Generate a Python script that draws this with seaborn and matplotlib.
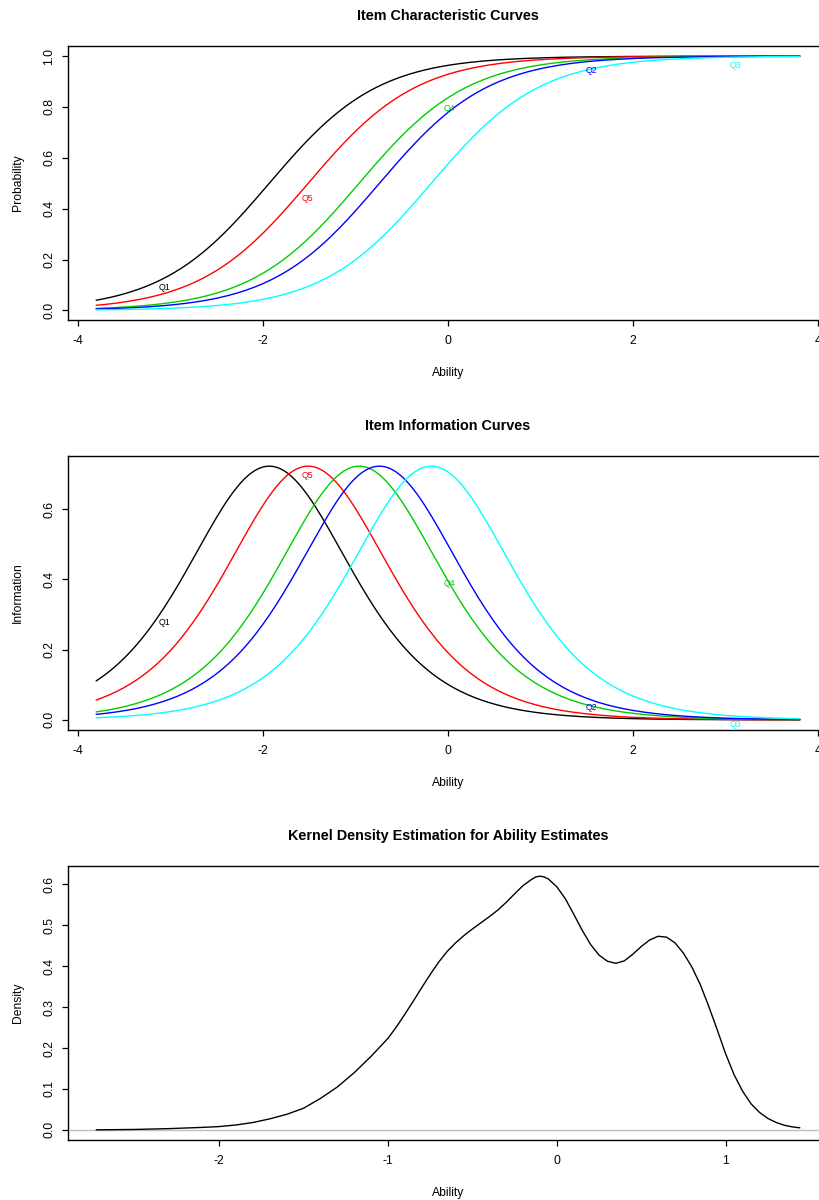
import numpy as np
import pandas as pd
import matplotlib
matplotlib.use("Agg")
import matplotlib.pyplot as plt
import seaborn as sns

# ---------------- data ----------------
# items in plotting order (sorted by difficulty), Rasch model with common discrimination
items = ["Q1", "Q5", "Q4", "Q2", "Q3"]
difficulty = [-1.93, -1.51, -0.96, -0.74, -0.18]
discrimination = 1.70
item_colors = ["#000000", "#FF0000", "#00CD00", "#0000FF", "#00FFFF"]
ability_range = [-3.8, 3.8]

# item label positions (ability) and heights in each panel
label_ability = [-3.06, -1.52, 0.02, 1.55, 3.10]
icc_label_y = [0.09, 0.44, 0.795, 0.945, 0.963]
iic_label_y = [0.276, 0.697, 0.389, 0.034, -0.014]

# kernel density of ability estimates
kde_ability = [-2.73, -2.50, -2.30, -2.10, -2.00, -1.90, -1.80, -1.70, -1.60, -1.50,
               -1.40, -1.30, -1.20, -1.10, -1.00, -0.95, -0.90, -0.85, -0.80, -0.75,
               -0.70, -0.65, -0.60, -0.55, -0.50, -0.45, -0.40, -0.35, -0.30, -0.25,
               -0.20, -0.15, -0.125, -0.10, -0.075, -0.05, 0.00, 0.05, 0.10, 0.15,
               0.20, 0.25, 0.30, 0.35, 0.40, 0.45, 0.50, 0.55, 0.60, 0.65,
               0.70, 0.75, 0.80, 0.85, 0.90, 0.95, 1.00, 1.05, 1.10, 1.15,
               1.20, 1.25, 1.30, 1.35, 1.40, 1.44]
kde_density = [0.000, 0.001, 0.003, 0.006, 0.008, 0.012, 0.018, 0.027, 0.038, 0.053,
               0.077, 0.105, 0.140, 0.180, 0.224, 0.252, 0.283, 0.315, 0.348, 0.380,
               0.410, 0.436, 0.457, 0.475, 0.491, 0.506, 0.521, 0.537, 0.556, 0.577,
               0.597, 0.612, 0.618, 0.620, 0.618, 0.613, 0.594, 0.565, 0.527, 0.488,
               0.453, 0.427, 0.412, 0.407, 0.413, 0.429, 0.448, 0.464, 0.473, 0.471,
               0.457, 0.432, 0.398, 0.355, 0.302, 0.245, 0.186, 0.135, 0.095, 0.064,
               0.043, 0.028, 0.018, 0.011, 0.007, 0.005]

# ---------------- build tables ----------------
theta = np.linspace(ability_range[0], ability_range[1], 200)
rows = []
for item, b in zip(items, difficulty):
    p = 1.0 / (1.0 + np.exp(-discrimination * (theta - b)))
    info = discrimination ** 2 * p * (1 - p)
    for t, pp, ii in zip(theta, p, info):
        rows.append((item, t, pp, ii))
curves = pd.DataFrame(rows, columns=["Item", "Ability", "Probability", "Information"])
kde = pd.DataFrame({"Ability": kde_ability, "Density": kde_density})
palette = dict(zip(items, item_colors))

# ---------------- style ----------------
sns.set_theme(style="ticks")
plt.rcParams["font.family"] = ["Liberation Sans", "DejaVu Sans"]
plt.rcParams["axes.linewidth"] = 1.0
plt.rcParams["axes.edgecolor"] = "black"
plt.rcParams["text.color"] = "black"
plt.rcParams["axes.labelcolor"] = "black"
plt.rcParams["xtick.color"] = "black"
plt.rcParams["ytick.color"] = "black"

W, H = 820, 1200
fig = plt.figure(figsize=(W / 100, H / 100), dpi=100)

box_left = 68
box_width = 760
box_height = 274
tops = [46, 456, 866]

def make_ax(top):
    return fig.add_axes([box_left / W, (H - top - box_height) / H,
                         box_width / W, box_height / H])

def style_ax(ax, title, ylabel, xticks, yticks):
    for s in ax.spines.values():
        s.set_visible(True)
        s.set_color("black")
        s.set_linewidth(1.0)
    ax.set_xticks(xticks)
    ax.set_xticklabels([f"{v:g}" for v in xticks])
    ax.set_yticks(yticks)
    ax.set_yticklabels([f"{v:.1f}" for v in yticks])
    ax.tick_params(axis="both", direction="out", length=4.5, width=0.9,
                   labelsize=8.7, colors="black", top=False, right=False)
    ax.tick_params(axis="x", pad=6.5)
    ax.tick_params(axis="y", pad=4.5)
    for lab in ax.get_yticklabels():
        lab.set_rotation(90)
        lab.set_va("center")
    ax.set_xlabel("Ability", fontsize=8.7, color="black")
    ax.set_ylabel(ylabel, fontsize=8.7, color="black")
    ax.xaxis.set_label_coords(0.5, -53 / box_height)
    ax.xaxis.label.set_va("center")
    ax.yaxis.set_label_coords(-50 / box_width, 0.5)
    ax.yaxis.label.set_va("center")
    ax.text(0.5, 1 + 30 / box_height, title, transform=ax.transAxes,
            ha="center", va="center", fontsize=10.4, fontweight="bold", color="black")
    ax.grid(False)

# Panel 1: ICC
ax1 = make_ax(tops[0])
sns.lineplot(data=curves, x="Ability", y="Probability", hue="Item", hue_order=items,
             palette=palette, legend=False, linewidth=1.0, estimator=None, ax=ax1)
ax1.margins(x=0.04, y=0.04)
for name, x, y, c in zip(items, label_ability, icc_label_y, item_colors):
    ax1.text(x, y, name, color=c, fontsize=6.3, ha="center", va="center")
style_ax(ax1, "Item Characteristic Curves", "Probability",
         [-4, -2, 0, 2, 4], [0.0, 0.2, 0.4, 0.6, 0.8, 1.0])

# Panel 2: IIC
ax2 = make_ax(tops[1])
sns.lineplot(data=curves, x="Ability", y="Information", hue="Item", hue_order=items,
             palette=palette, legend=False, linewidth=1.0, estimator=None, ax=ax2)
ax2.margins(x=0.04, y=0.04)
for name, x, y, c in zip(items, label_ability, iic_label_y, item_colors):
    ax2.text(x, y, name, color=c, fontsize=6.3, ha="center", va="center")
style_ax(ax2, "Item Information Curves", "Information",
         [-4, -2, 0, 2, 4], [0.0, 0.2, 0.4, 0.6])

# Panel 3: KDE
ax3 = make_ax(tops[2])
ax3.axhline(0, color="#BEBEBE", linewidth=1.0, zorder=1)
sns.lineplot(data=kde, x="Ability", y="Density", color="black", linewidth=1.0,
             estimator=None, sort=False, ax=ax3, zorder=2)
ax3.margins(x=0.04, y=0.04)
style_ax(ax3, "Kernel Density Estimation for Ability Estimates", "Density",
         [-2, -1, 0, 1], [0.0, 0.1, 0.2, 0.3, 0.4, 0.5, 0.6])

fig.savefig("out.png", dpi=100, facecolor="white")
